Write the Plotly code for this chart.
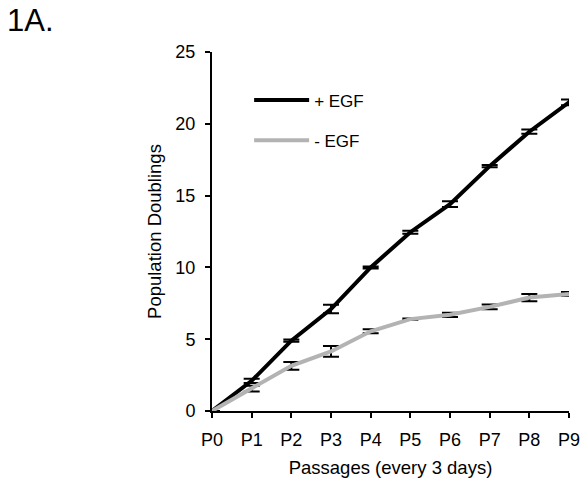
import plotly.graph_objects as go

passages = ["P0", "P1", "P2", "P3", "P4", "P5", "P6", "P7", "P8", "P9"]
plus_egf = [0, 2.1, 4.9, 7.1, 10.0, 12.45, 14.4, 17.05, 19.45, 21.5]
plus_err = [0, 0.15, 0.08, 0.3, 0.07, 0.1, 0.2, 0.08, 0.15, 0.2]
minus_egf = [0, 1.55, 3.15, 4.15, 5.55, 6.4, 6.7, 7.25, 7.9, 8.15]
minus_err = [0, 0.2, 0.27, 0.38, 0.14, 0.05, 0.15, 0.17, 0.25, 0.13]

xpos = list(range(len(passages)))
FONT = "Liberation Sans, Arial, sans-serif"

fig = go.Figure()
fig.add_trace(go.Scatter(
    x=xpos, y=plus_egf, mode="lines", name="+ EGF", legendgroup="a",
    line=dict(color="black", width=4),
    error_y=dict(type="data", array=plus_err, color="black", thickness=2, width=8),
    cliponaxis=False,
))
fig.add_trace(go.Scatter(
    x=xpos, y=minus_egf, mode="lines", name="- EGF", legendgroup="b",
    line=dict(color="#b3b3b3", width=4),
    error_y=dict(type="data", array=minus_err, color="black", thickness=2, width=8),
    cliponaxis=False,
))

PW, PH = 357, 359
fig.update_layout(
    width=583, height=481,
    margin=dict(l=212, r=14, t=52, b=70, autoexpand=False),
    paper_bgcolor="white", plot_bgcolor="white",
    font=dict(family=FONT, size=18, color="black"),
    legend=dict(x=0.104, y=0.915, xanchor="left", yanchor="top",
                font=dict(size=17), bgcolor="rgba(0,0,0,0)",
                tracegroupgap=15, traceorder="grouped", itemwidth=55),
    annotations=[dict(text="1A.", xref="paper", yref="paper",
                      x=(-212 + 5) / PW, y=1 + (52 - 1) / PH,
                      xanchor="left", yanchor="top",
                      showarrow=False, font=dict(size=31))],
)

fig.update_xaxes(
    range=[0, 9], tickmode="array", tickvals=xpos, ticktext=passages,
    showline=True, linecolor="black", linewidth=2,
    ticks="outside", ticklen=5, tickwidth=2, tickcolor="black",
    showgrid=False, zeroline=False, ticklabelstandoff=6, automargin=False,
    title=dict(text="Passages (every 3 days)", standoff=12, font=dict(size=18.5)),
)
fig.update_yaxes(
    range=[0, 25], tickvals=[0, 5, 10, 15, 20, 25],
    showline=True, linecolor="black", linewidth=2,
    ticks="outside", ticklen=5, tickwidth=2, tickcolor="black",
    showgrid=False, zeroline=False, ticklabelstandoff=6, automargin=False,
    title=dict(text="Population Doublings", standoff=9, font=dict(size=18.5)),
)

fig.write_html("out.html")
